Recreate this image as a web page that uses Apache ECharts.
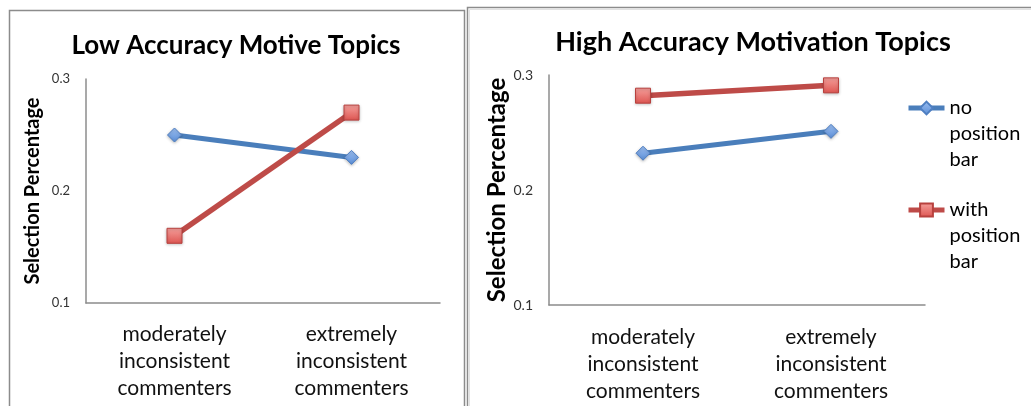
<!DOCTYPE html>
<html><head><meta charset="utf-8">
<script src="https://cdn.jsdelivr.net/npm/echarts@6/dist/echarts.min.js"></script>
<style>html,body{margin:0;padding:0;background:#fff}#c{width:1031px;height:406px}</style>
</head><body><div id="c"></div>
<script>
// ---- data ----
const categories = ['moderately\ninconsistent\ncommenters', 'extremely\ninconsistent\ncommenters'];
const seriesNames = ['no position bar', 'with position bar'];
const lowNoBar = [0.25, 0.23];
const lowWithBar = [0.16, 0.27];
const highNoBar = [0.232, 0.251];
const highWithBar = [0.282, 0.291];
const yMin = 0.1, yMax = 0.3, yInterval = 0.1;
const titles = ['Low Accuracy Motive Topics', 'High Accuracy Motivation Topics'];
const yName = 'Selection Percentage';

// ---- styles ----
const FONT = 'Lato, "Open Sans", sans-serif';
const axisGray = '#8c8c8c';
const blueLine = '#4A7EBB', redLine = '#BE4B48';
const blueFill = new echarts.graphic.LinearGradient(0, 0, 0, 1, [{offset: 0, color: '#9DC0F2'}, {offset: 1, color: '#5A8DD6'}]);
const redFill = new echarts.graphic.LinearGradient(0, 0, 0, 1, [{offset: 0, color: '#F5A09C'}, {offset: 1, color: '#DE5551'}]);

function xAxis(gi, margin) {
  return {
    type: 'category', gridIndex: gi, data: categories,
    axisLine: {lineStyle: {color: axisGray, width: 1.5}},
    axisTick: {show: false},
    axisLabel: {fontFamily: FONT, fontSize: 21, lineHeight: 27, color: '#111', margin: margin, interval: 0}
  };
}
function yAxis(gi, nameSize, nameGap, labelSize) {
  return {
    type: 'value', gridIndex: gi, min: yMin, max: yMax, interval: yInterval,
    name: yName, nameLocation: 'middle', nameGap: nameGap,
    nameTextStyle: {fontFamily: FONT, fontSize: nameSize, fontWeight: 'bold', color: '#000'},
    axisLine: {show: true, lineStyle: {color: axisGray, width: 1.5}},
    axisTick: {show: false},
    splitLine: {show: false},
    axisLabel: {fontFamily: FONT, fontSize: labelSize, color: '#333', margin: 16,
      formatter: v => v.toFixed(1)}
  };
}
function lineSeries(name, data, gi, isBlue) {
  return {
    type: 'line', name: name, data: data, xAxisIndex: gi, yAxisIndex: gi,
    symbol: isBlue ? 'diamond' : 'rect', symbolSize: isBlue ? 14 : 15,
    lineStyle: {color: isBlue ? blueLine : redLine, width: isBlue ? 5 : 5.5},
    itemStyle: {color: isBlue ? blueFill : redFill, borderColor: isBlue ? '#4F7FC2' : '#B8413E', borderWidth: 1,
      shadowColor: 'rgba(0,0,0,0.25)', shadowBlur: 3, shadowOffsetY: 1},
    emphasis: {disabled: true},
    z: isBlue ? 2 : 3
  };
}

const chart = echarts.init(document.getElementById('c'), null, {renderer: 'canvas'});
chart.setOption({
  animation: false,
  backgroundColor: '#fff',
  title: [
    {text: titles[0], left: 236, top: 33, textAlign: 'center', padding: 0,
      textStyle: {fontFamily: FONT, fontSize: 26, fontWeight: 'bold', color: '#000'}},
    {text: titles[1], left: 753, top: 29, textAlign: 'center', padding: 0,
      textStyle: {fontFamily: FONT, fontSize: 27, fontWeight: 'bold', color: '#000'}}
  ],
  legend: {
    data: seriesNames, orient: 'vertical', left: 906, top: 43, padding: 0,
    itemGap: -28, itemWidth: 36, itemHeight: 16,
    lineStyle: {width: 5},
    formatter: n => '\n\n' + n.split(' ').join('\n'),
    textStyle: {fontFamily: FONT, fontSize: 20, lineHeight: 26, color: '#000'}
  },
  grid: [
    {left: 86, top: 79, width: 354, height: 224, containLabel: false},
    {left: 549, top: 75, width: 376, height: 230, containLabel: false}
  ],
  xAxis: [xAxis(0, 18), xAxis(1, 19)],
  yAxis: [yAxis(0, 20, 43, 13), yAxis(1, 24, 36, 14)],
  series: [
    lineSeries(seriesNames[0], lowNoBar, 0, true),
    lineSeries(seriesNames[1], lowWithBar, 0, false),
    lineSeries(seriesNames[0], highNoBar, 1, true),
    lineSeries(seriesNames[1], highWithBar, 1, false)
  ],
  graphic: [
    {type: 'rect', silent: true, z: -10, shape: {x: 9.5, y: 10.5, width: 455, height: 430},
      style: {fill: null, stroke: '#8c8c8c', lineWidth: 1.5}},
    {type: 'rect', silent: true, z: -10, shape: {x: 467.5, y: 7.5, width: 600, height: 430},
      style: {fill: null, stroke: '#8c8c8c', lineWidth: 1.5}},
    {type: 'rect', silent: true, z: -10, shape: {x: 469.5, y: 9.5, width: 600, height: 430},
      style: {fill: null, stroke: '#e2e2e2', lineWidth: 1}}
  ]
});
</script></body></html>
